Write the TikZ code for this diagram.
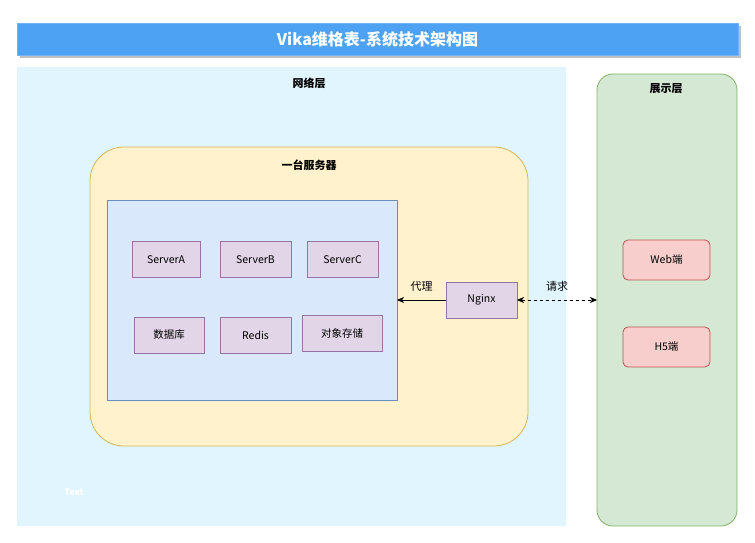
\documentclass[tikz,border=0pt]{standalone}
\usepackage{fontspec}
\setmainfont{Noto Sans CJK SC}
\usetikzlibrary{arrows.meta}

\definecolor{titleblue}{HTML}{4EA2F4}
\definecolor{netblue}{HTML}{E1F5FE}
\definecolor{dispgreen}{HTML}{D5E8D4}
\definecolor{displine}{HTML}{82B366}
\definecolor{srvyellow}{HTML}{FFF2CC}
\definecolor{srvline}{HTML}{D6B656}
\definecolor{boxblue}{HTML}{DAE8FC}
\definecolor{boxline}{HTML}{6C8EBF}
\definecolor{modpurple}{HTML}{E1D5E7}
\definecolor{modline}{HTML}{9673A6}
\definecolor{endred}{HTML}{F8CECC}
\definecolor{endline}{HTML}{B85450}

\begin{document}
\begin{tikzpicture}[x=1pt,y=-1pt,
    area/.style={inner sep=0pt, outer sep=0pt},
    module/.style={area, draw=modline, fill=modpurple, line width=0.8pt,
        minimum width=71pt, minimum height=36pt, font=\fontsize{10.5}{12}\selectfont},
    client/.style={area, draw=endline, fill=endred, line width=0.8pt, rounded corners=5pt,
        minimum width=87pt, minimum height=40pt, font=\fontsize{10.5}{12}\selectfont},
    heading/.style={font=\fontsize{11}{13}\selectfont\bfseries},
    edgelabel/.style={above=5pt, font=\fontsize{11}{13}\selectfont},
    tip/.style={-{Stealth[length=7pt,width=6pt,inset=2pt]}},
    twotip/.style={{Stealth[length=7pt,width=6pt,inset=2pt]}-{Stealth[length=7pt,width=6pt,inset=2pt]}}
]
\useasboundingbox (0,0) rectangle (755,543);
\fill[white] (0,0) rectangle (755,543);

% ===== Title =====
\fill[black!25] (20,26) rectangle (741,58);
\node[area, fill=titleblue, draw=titleblue!80!white, minimum width=721pt, minimum height=32pt,
      text=white, font=\fontsize{16}{19}\selectfont\bfseries] (title) at (377.5,39) {Vika维格表-系统技术架构图};

% ===== Layers =====
\node[area, fill=netblue, minimum width=549pt, minimum height=459pt] (net) at (291.5,296.5) {};
\node[heading] (netlabel) at (309,83) {网络层};
\node[area, draw=displine, fill=dispgreen, line width=0.8pt, rounded corners=16pt,
      minimum width=140pt, minimum height=452pt] (disp) at (667,300) {};
\node[heading] (displabel) at (666,89) {展示层};

% ===== Server =====
\node[area, draw=srvline, fill=srvyellow, line width=0.8pt, rounded corners=34pt,
      minimum width=438pt, minimum height=299pt] (server) at (309,296.5) {};
\node[heading] (srvlabel) at (309,165) {一台服务器};
\node[area, draw=boxline, fill=boxblue, line width=0.8pt,
      minimum width=290pt, minimum height=200pt] (inner) at (252,300) {};

% Row 1
\node[module, minimum width=68pt] (srva) at (166,259.5) {ServerA};
\node[module] (srvb) at (255.5,259.5) {ServerB};
\node[module] (srvc) at (342.5,259.5) {ServerC};

% Row 2
\node[module, minimum width=70pt] (db) at (169,335) {数据库};
\node[module] (redis) at (255.5,335) {Redis};
\node[module, minimum width=80pt] (oss) at (342,333) {对象存储};

% Nginx
\node[module] (nginx) at (481.5,300) {Nginx};

% ===== Clients =====
\node[client] (web) at (666.5,260) {Web端};
\node[client] (h5) at (666.5,347) {H5端};

% ===== Connectors =====
\draw[tip, line width=0.8pt] (nginx.west) -- node[edgelabel] (proxy) {代理} (inner.east);
\draw[twotip, dashed, line width=0.8pt]
    (nginx.east) -- node[edgelabel] (req) {请求} (disp.west);

\node[text=white, font=\fontsize{9}{11}\selectfont\bfseries] (txt) at (74,492) {Text};

\end{tikzpicture}
\end{document}
